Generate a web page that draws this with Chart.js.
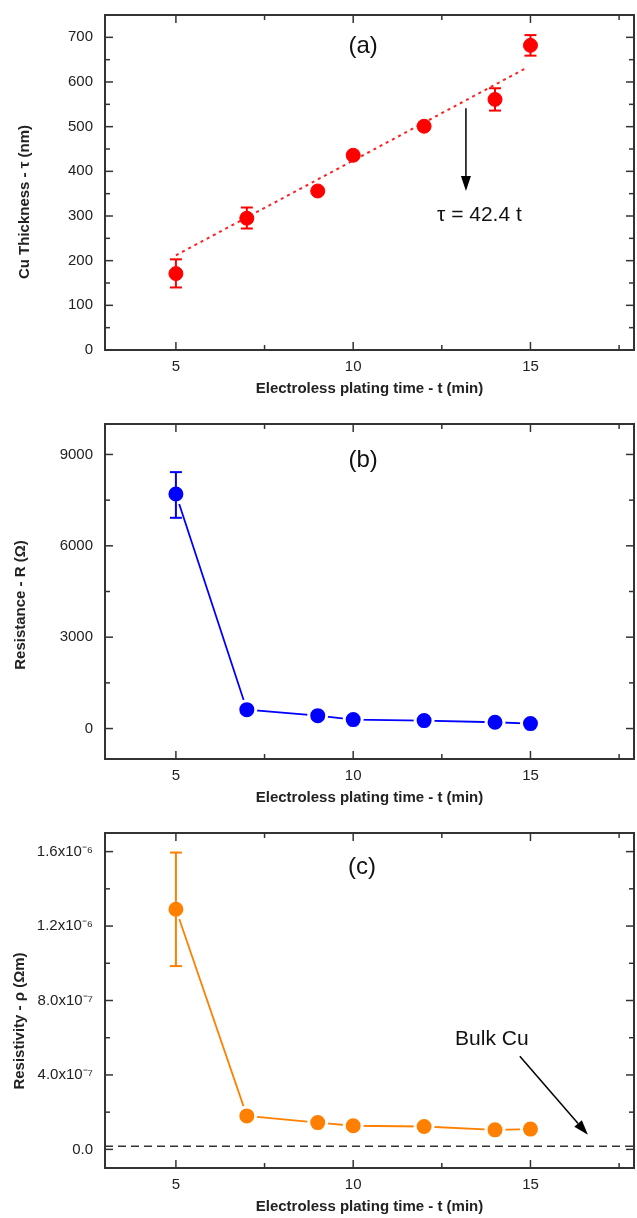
<!DOCTYPE html>
<html>
<head>
<meta charset="utf-8">
<script src="https://cdn.jsdelivr.net/npm/chart.js@4.4.1/dist/chart.umd.min.js"></script>
<style>
  html, body { margin: 0; padding: 0; background: #fff; overflow: hidden; }
  .panel { position: absolute; left: 0; width: 637px; }
</style>
</head>
<body>
<div class="panel" style="top:0;height:409px"><canvas id="chartA"></canvas></div>
<div class="panel" style="top:409px;height:409px"><canvas id="chartB"></canvas></div>
<div class="panel" style="top:818px;height:400px"><canvas id="chartC"></canvas></div>
<script>
// tiempo de deposición (min)
const plating_time = [5, 7, 9, 10, 12, 14, 15];

// (a) espesor de Cu (nm) y barras de error
const thickness    = [171, 295, 356, 436, 501, 561, 682];
const thickness_lo = [140, 272, null, null, null, 536, 659];
const thickness_hi = [203, 319, null, null, null, 586, 705];
const fit_time      = [5, 14.85];
const fit_thickness = [212, 630];

// (b) resistencia (ohm)
const resistance    = [7700, 620, 424, 293, 261, 206, 163];
const resistance_lo = [6920, null, null, null, null, null, null];
const resistance_hi = [8420, null, null, null, null, null, null];

// (c) resistividad (ohm m)
const resistivity    = [1.29e-6, 1.8e-7, 1.44e-7, 1.27e-7, 1.23e-7, 1.05e-7, 1.09e-7];
const resistivity_lo = [0.985e-6, null, null, null, null, null, null];
const resistivity_hi = [1.595e-6, null, null, null, null, null, null];
const bulk_time = [3, 17.92];
const bulk_cu   = [1.7e-8, 1.7e-8];

// marcas de los ejes
const x_ticks = [5, 10, 15];
const x_minor = [7.5, 12.5, 17.5];
const thickness_ticks = [0, 100, 200, 300, 400, 500, 600, 700];
const thickness_minor = [50, 150, 250, 350, 450, 550, 650];
const resistance_ticks = [0, 3000, 6000, 9000];
const resistance_minor = [1500, 4500, 7500];
const rho_ticks  = [0, 4e-7, 8e-7, 1.2e-6, 1.6e-6];
const rho_labels = ['0.0', '4.0x10\u207B\u2077', '8.0x10\u207B\u2077', '1.2x10\u207B\u2076', '1.6x10\u207B\u2076'];
const rho_minor  = [2e-7, 6e-7, 1e-6, 1.4e-6];

const FONT = "'Liberation Sans', Arial, Helvetica, sans-serif";
const INK = '#222';
Chart.defaults.font.family = FONT;
Chart.defaults.color = INK;

function pairs(xs, ys) {
  return xs.map((x, i) => ({ x: x, y: ys[i] }));
}

function line(ctx, x1, y1, x2, y2) {
  ctx.beginPath();
  ctx.moveTo(x1, y1);
  ctx.lineTo(x2, y2);
  ctx.stroke();
}

function arrow(ctx, x1, y1, x2, y2) {
  const ang = Math.atan2(y2 - y1, x2 - x1);
  const len = 15, half = 5;
  const bx = x2 - len * Math.cos(ang), by = y2 - len * Math.sin(ang);
  ctx.strokeStyle = '#000';
  ctx.fillStyle = '#000';
  ctx.lineWidth = 1.5;
  line(ctx, x1, y1, bx, by);
  ctx.beginPath();
  ctx.moveTo(x2, y2);
  ctx.lineTo(bx + half * Math.sin(ang), by - half * Math.cos(ang));
  ctx.lineTo(bx - half * Math.sin(ang), by + half * Math.cos(ang));
  ctx.closePath();
  ctx.fill();
}

// marco, marcas interiores, barras de error y anotaciones
const panelPlugin = {
  id: 'panel',
  afterDatasetsDraw(chart, args, o) {
    const ctx = chart.ctx;
    const a = chart.chartArea;
    const xs = chart.scales.x, ys = chart.scales.y;
    ctx.save();

    // barras de error
    ctx.strokeStyle = o.color;
    ctx.lineWidth = 2;
    plating_time.forEach((t, i) => {
      if (o.lo[i] == null) return;
      const px = xs.getPixelForValue(t);
      const yl = ys.getPixelForValue(o.lo[i]);
      const yh = ys.getPixelForValue(o.hi[i]);
      line(ctx, px, yl, px, yh);
      line(ctx, px - 6, yl, px + 6, yl);
      line(ctx, px - 6, yh, px + 6, yh);
    });

    // marco
    ctx.strokeStyle = '#333';
    ctx.lineWidth = 2;
    ctx.strokeRect(a.left, a.top, a.right - a.left, a.bottom - a.top);
    ctx.lineWidth = 1.5;
    const tickSet = (scale, vals, len) => vals.forEach(v => {
      const p = scale.getPixelForValue(v);
      if (scale.isHorizontal()) {
        line(ctx, p, a.bottom, p, a.bottom - len);
        line(ctx, p, a.top, p, a.top + len);
      } else {
        line(ctx, a.left, p, a.left + len, p);
        line(ctx, a.right, p, a.right - len, p);
      }
    });
    tickSet(xs, x_ticks, 8);
    tickSet(xs, x_minor, 5);
    tickSet(ys, o.yMajor, 8);
    tickSet(ys, o.yMinor, 5);

    // flechas
    (o.arrows || []).forEach(r => {
      arrow(ctx, xs.getPixelForValue(r[0]), ys.getPixelForValue(r[1]),
                 xs.getPixelForValue(r[2]), ys.getPixelForValue(r[3]));
    });

    // textos
    ctx.fillStyle = '#111';
    ctx.textAlign = 'center';
    ctx.textBaseline = 'middle';
    (o.labels || []).forEach(l => {
      ctx.font = l.size + 'px ' + FONT;
      ctx.fillText(l.text, xs.getPixelForValue(l.x), ys.getPixelForValue(l.y));
    });

    // títulos de los ejes
    ctx.fillStyle = INK;
    ctx.font = 'bold 15px ' + FONT;
    ctx.fillText('Electroless plating time - t (min)', (a.left + a.right) / 2, a.bottom + 38.5);
    ctx.translate(o.titleX, o.titleY);
    ctx.rotate(-Math.PI / 2);
    ctx.fillText(o.yTitle, 0, 0);
    ctx.restore();
  }
};

function makePanel(id, cfg) {
  const canvasH = document.getElementById(id).parentNode.clientHeight;
  return new Chart(document.getElementById(id), {
    type: 'scatter',
    data: { datasets: cfg.datasets },
    options: {
      responsive: true,
      maintainAspectRatio: false,
      animation: false,
      devicePixelRatio: 1,
      layout: { autoPadding: false, padding: { top: 15, right: 3, left: 0, bottom: 0 } },
      plugins: {
        legend: { display: false },
        tooltip: { enabled: false },
        panel: cfg.panel
      },
      scales: {
        x: {
          type: 'linear', min: 3, max: 17.92,
          grid: { display: false, drawTicks: false },
          border: { display: false },
          afterBuildTicks: s => { s.ticks = x_ticks.map(v => ({ value: v })); },
          afterFit: s => { s.height = canvasH - 350; s.paddingLeft = 0; s.paddingRight = 0; },
          ticks: { padding: 8, font: { size: 15 }, color: INK, callback: v => String(v) }
        },
        y: {
          type: 'linear', min: cfg.yMin, max: cfg.yMax,
          grid: { display: false, drawTicks: false },
          border: { display: false },
          afterBuildTicks: s => { s.ticks = cfg.panel.yMajor.map(v => ({ value: v })); },
          afterFit: s => { s.width = 105; s.paddingTop = 0; s.paddingBottom = 0; },
          ticks: { padding: 12, font: { size: 15 }, color: INK, callback: cfg.yLabel }
        }
      }
    },
    plugins: [panelPlugin]
  });
}

// (a)
makePanel('chartA', {
  yMin: 0, yMax: 750,
  yLabel: v => String(v),
  datasets: [
    { data: pairs(plating_time, thickness), pointRadius: 7, pointBackgroundColor: '#ff0000',
      pointBorderColor: '#ff0000', pointBorderWidth: 1, showLine: false },
    { data: pairs(fit_time, fit_thickness), showLine: true, pointRadius: 0,
      borderColor: '#ff2020', borderWidth: 2, borderDash: [3, 4] }
  ],
  panel: {
    color: '#ff0000', lo: thickness_lo, hi: thickness_hi,
    yMajor: thickness_ticks, yMinor: thickness_minor,
    yTitle: 'Cu Thickness - \u03C4 (nm)', titleX: 25, titleY: 202,
    arrows: [[13.18, 541, 13.18, 356]],
    labels: [
      { text: '(a)', x: 10.28, y: 679, size: 24 },
      { text: '\u03C4 = 42.4 t', x: 13.56, y: 301, size: 21 }
    ]
  }
});

// (b)
makePanel('chartB', {
  yMin: -1000, yMax: 10000,
  yLabel: v => String(v),
  datasets: [
    { data: pairs(plating_time, resistance), showLine: true, borderColor: '#0000ff', borderWidth: 1.8,
      pointRadius: 9, pointBackgroundColor: '#0000ff', pointBorderColor: '#ffffff', pointBorderWidth: 3 }
  ],
  panel: {
    color: '#0000ff', lo: resistance_lo, hi: resistance_hi,
    yMajor: resistance_ticks, yMinor: resistance_minor,
    yTitle: 'Resistance - R (\u03A9)', titleX: 21, titleY: 196,
    labels: [{ text: '(b)', x: 10.28, y: 8794, size: 24 }]
  }
});

// (c)
makePanel('chartC', {
  yMin: -1e-7, yMax: 1.7e-6,
  yLabel: v => rho_labels[rho_ticks.findIndex(t => Math.abs(t - v) < 1e-12)],
  datasets: [
    { data: pairs(plating_time, resistivity), showLine: true, borderColor: '#ff8000', borderWidth: 1.8,
      pointRadius: 9, pointBackgroundColor: '#ff8000', pointBorderColor: '#ffffff', pointBorderWidth: 3 },
    { data: pairs(bulk_time, bulk_cu), showLine: true, pointRadius: 0,
      borderColor: '#333', borderWidth: 1.5, borderDash: [8, 5] }
  ],
  panel: {
    color: '#ff8000', lo: resistivity_lo, hi: resistivity_hi,
    yMajor: rho_ticks, yMinor: rho_minor,
    yTitle: 'Resistivity - \u03C1 (\u03A9m)', titleX: 20, titleY: 203,
    arrows: [[14.70, 5.0e-7, 16.62, 0.78e-7]],
    labels: [
      { text: '(c)', x: 10.25, y: 1.515e-6, size: 24 },
      { text: 'Bulk Cu', x: 13.91, y: 5.94e-7, size: 21 }
    ]
  }
});
</script>
</body>
</html>
